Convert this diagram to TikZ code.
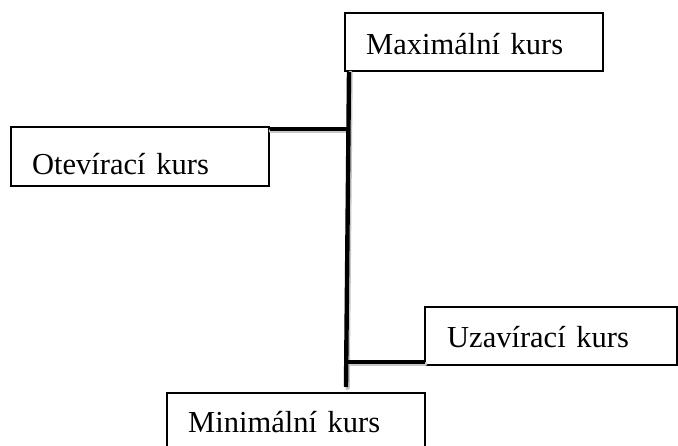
\documentclass[tikz,border=0pt]{standalone}
\usepackage{fontspec}
\setmainfont{Liberation Serif}
\begin{document}
\begin{tikzpicture}[x=1pt,y=-1pt,
  box/.style={draw, line width=1.9pt, inner sep=0pt, outer sep=0pt, anchor=north west},
  lbl/.style={anchor=base west, inner sep=0pt, font=\fontsize{30.5}{36}\selectfont},
  conn/.style={line width=4.4pt, black},
  shade/.style={line width=4.5pt, black!22, line cap=round}]
\useasboundingbox (0,0) rectangle (678,446);
\clip (0,0) rectangle (678,446);
% boxes
\node[box, minimum width=258pt, minimum height=58pt] (max) at (345,13) {};
\node[box, minimum width=258pt, minimum height=59pt] (ote) at (11,127) {};
\node[box, minimum width=252pt, minimum height=58pt] (uza) at (425,307) {};
\node[box, minimum width=258pt, minimum height=70pt] (min) at (167,393) {};
% labels
\node[lbl] (maxt) at (366,55) {Maximální\hspace{.35em}kurs};
\node[lbl] (otet) at (32,175) {Otevírací\hspace{.35em}kurs};
\node[lbl] (uzat) at (447,348) {Uzavírací\hspace{.35em}kurs};
\node[lbl] (mint) at (188,433) {Minimální\hspace{.35em}kurs};
% connector points
\coordinate (vtop) at (349,72);
\coordinate (vbot) at (346,387);
\coordinate (j1) at (347.6,129);
\coordinate (o1) at (269.5,129);
\coordinate (j2) at (346.5,362);
\coordinate (u1) at (425,362);
% shadows
\draw[shade] ([shift={(1.5,2)}]o1) -- ([shift={(1.5,2)}]j1);
\draw[shade] ([shift={(1.5,2)}]j2) -- ([shift={(0,2)}]u1);
\draw[shade] ([shift={(1.5,1)}]vtop) -- ([shift={(1.5,1)}]vbot);
% connectors
\draw[conn] (vtop) -- (vbot);
\draw[conn] (o1) -- (j1);
\draw[conn] (j2) -- (u1);
\end{tikzpicture}
\end{document}
